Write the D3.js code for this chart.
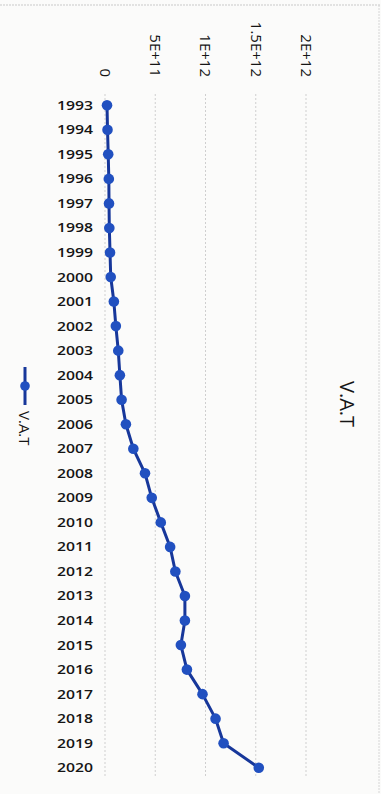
<!DOCTYPE html>
<html>
<head>
<meta charset="utf-8">
<script src="https://cdn.jsdelivr.net/npm/d3@7"></script>
<style>
  html, body { margin: 0; padding: 0; background: #fbfbfa; }
  svg { display: block; }
  text { font-family: "Open Sans", "Liberation Sans", sans-serif; fill: #151515; }
</style>
</head>
<body>
<svg id="chart" width="381" height="794"></svg>
<script>
// Yearly V.A.T collections
const years = [1993, 1994, 1995, 1996, 1997, 1998, 1999, 2000, 2001, 2002,
               2003, 2004, 2005, 2006, 2007, 2008, 2009, 2010, 2011, 2012,
               2013, 2014, 2015, 2016, 2017, 2018, 2019, 2020];
const vat = [2.0e10, 2.5e10, 3.2e10, 3.8e10, 4.0e10, 4.3e10, 5.0e10, 5.7e10, 8.8e10, 1.08e11,
             1.32e11, 1.48e11, 1.65e11, 2.08e11, 2.82e11, 3.98e11, 4.65e11, 5.55e11, 6.48e11, 7.0e11,
             7.95e11, 7.95e11, 7.55e11, 8.15e11, 9.7e11, 1.10e12, 1.18e12, 1.53e12];
const tickValues = [0, 5e11, 1e12, 1.5e12, 2e12];
const tickLabels = ["0", "5E+11", "1E+12", "1.5E+12", "2E+12"];
const seriesName = "V.A.T";
const title = "V.A.T";

const svg = d3.select("#chart");
const W = 381, H = 794;

// faint outer frame of the chart area
svg.append("line").attr("x1", 0).attr("x2", W).attr("y1", 5).attr("y2", 5)
  .attr("stroke", "#c9c9c9").attr("stroke-dasharray", "2,1");
svg.append("line").attr("x1", 379).attr("x2", 379).attr("y1", 5).attr("y2", H)
  .attr("stroke", "#d6d6d6").attr("stroke-dasharray", "2,1");

// value axis runs left→right, categories run top→bottom
const x = d3.scaleLinear().domain([0, 2e12]).range([105, 306]);
const y = d3.scalePoint().domain(years).range([93, 780]).padding(0.5);

// gridlines
svg.append("g").selectAll("line").data(tickValues).join("line")
  .attr("x1", d => x(d)).attr("x2", d => x(d))
  .attr("y1", 94).attr("y2", 778)
  .attr("stroke", "#cfcfcf").attr("stroke-width", 1)
  .attr("stroke-dasharray", "2,2");

// value tick labels, rotated
svg.append("g").selectAll("text").data(tickValues).join("text")
  .attr("transform", d => `translate(${x(d)},77) rotate(90)`)
  .attr("text-anchor", "end")
  .attr("dy", "0.35em")
  .style("font-size", "15px")
  .style("font-weight", "500")
  .text((d, i) => tickLabels[i]);

// category labels
svg.append("g").selectAll("text").data(years).join("text")
  .attr("x", 93).attr("y", d => y(d))
  .attr("dy", "0.36em")
  .attr("text-anchor", "end")
  .attr("textLength", 36)
  .attr("lengthAdjust", "spacingAndGlyphs")
  .style("font-size", "12.5px")
  .style("font-weight", "600")
  .text(d => d);

// series line
const pts = years.map((yr, i) => [x(vat[i]), y(yr)]);
svg.append("path")
  .attr("d", d3.line()(pts))
  .attr("fill", "none")
  .attr("stroke", "#17379a")
  .attr("stroke-width", 3)
  .attr("stroke-linejoin", "round");

svg.append("g").selectAll("circle").data(pts).join("circle")
  .attr("cx", d => d[0]).attr("cy", d => d[1])
  .attr("r", 5.3)
  .attr("fill", "#2150c0");

// title
svg.append("text")
  .attr("transform", "translate(347,404) rotate(90)")
  .attr("text-anchor", "middle")
  .attr("dy", "0.35em")
  .style("font-size", "20px")
  .text(title);

// legend
const lg = svg.append("g");
lg.append("line").attr("x1", 25).attr("x2", 25).attr("y1", 367).attr("y2", 405)
  .attr("stroke", "#17379a").attr("stroke-width", 3);
lg.append("circle").attr("cx", 25).attr("cy", 386).attr("r", 4.8).attr("fill", "#2150c0");
lg.append("text")
  .attr("transform", "translate(24.5,411) rotate(90)")
  .attr("text-anchor", "start")
  .attr("dy", "0.35em")
  .style("font-size", "15px")
  .text(seriesName);
</script>
</body>
</html>
